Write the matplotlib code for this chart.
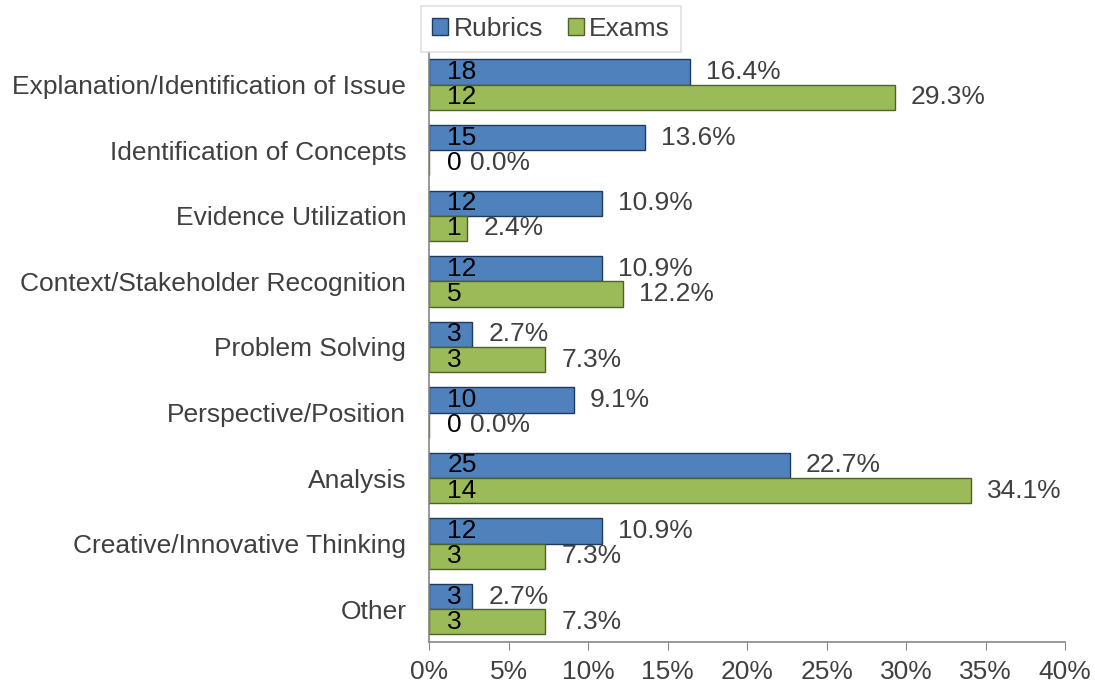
import numpy as np
import matplotlib.pyplot as plt
from matplotlib.transforms import offset_copy

plt.rcParams['font.family'] = ['Liberation Sans', 'DejaVu Sans']

# Data
categories = ["Explanation/Identification of Issue", "Identification of Concepts",
              "Evidence Utilization", "Context/Stakeholder Recognition",
              "Problem Solving", "Perspective/Position", "Analysis",
              "Creative/Innovative Thinking", "Other"]
rubrics_n = [18, 15, 12, 12, 3, 10, 25, 12, 3]
exams_n = [12, 0, 1, 5, 3, 0, 14, 3, 3]
rubrics_pct = [16.4, 13.6, 10.9, 10.9, 2.7, 9.1, 22.7, 10.9, 2.7]
exams_pct = [29.3, 0.0, 2.4, 12.2, 7.3, 0.0, 34.1, 7.3, 7.3]

blue, blue_edge = '#4F81BD', '#1F3A60'
green, green_edge = '#9BBB59', '#4F6228'
grey = '#404040'
fs = 19

fig = plt.figure(figsize=(10.95, 6.87), dpi=100)
ax = fig.add_axes([0.392, 0.0655, 0.5806, 0.859])

y = np.arange(len(categories))
h = 0.385
ax.barh(y - h / 2, rubrics_pct, height=h, color=blue, edgecolor=blue_edge,
        linewidth=1, label='Rubrics')
ax.barh(y + h / 2, exams_pct, height=h, color=green, edgecolor=green_edge,
        linewidth=1, label='Exams')

ax.set_xlim(0, 40)
ax.set_ylim(len(categories) - 0.5, -0.5)
ax.set_yticks(y)
ax.set_yticklabels(categories, fontsize=fs, color=grey)
ax.set_xticks(np.arange(0, 41, 5))
ax.set_xticklabels([f'{t}%' for t in range(0, 41, 5)], fontsize=fs, color=grey)

for s in ['top', 'right']:
    ax.spines[s].set_visible(False)
for s in ['left', 'bottom']:
    ax.spines[s].set_color('#868686')
    ax.spines[s].set_linewidth(1.2)
ax.tick_params(axis='y', length=0, pad=16.5)
ax.tick_params(axis='x', length=6, color='#868686', direction='out', pad=7)

# labels: counts inside bars, percentages outside end
for vals, pcts, off in [(rubrics_n, rubrics_pct, -h / 2), (exams_n, exams_pct, h / 2)]:
    for i, (n, p) in enumerate(zip(vals, pcts)):
        t_in = offset_copy(ax.transData, fig=fig, x=18, y=0, units='dots')
        ax.text(0, i + off, str(n), transform=t_in, fontsize=fs,
                color='black', va='center', ha='left')
        dx = 41 if p == 0 else 16
        t_out = offset_copy(ax.transData, fig=fig, x=dx, y=0, units='dots')
        ax.text(p, i + off, f'{p:.1f}%', transform=t_out, fontsize=fs,
                color=grey, va='center', ha='left')

leg = ax.legend(loc='lower left', bbox_to_anchor=(-0.0126, 1.0), ncol=2,
                fontsize=fs, frameon=True, fancybox=False, handlelength=0.6,
                handleheight=0.6, handletextpad=0.2, columnspacing=0.95,
                borderpad=0.42, borderaxespad=0, labelcolor=grey)
leg.get_frame().set_edgecolor('#D9D9D9')
leg.get_frame().set_linewidth(1.2)

fig.savefig('out.png', dpi=100)
